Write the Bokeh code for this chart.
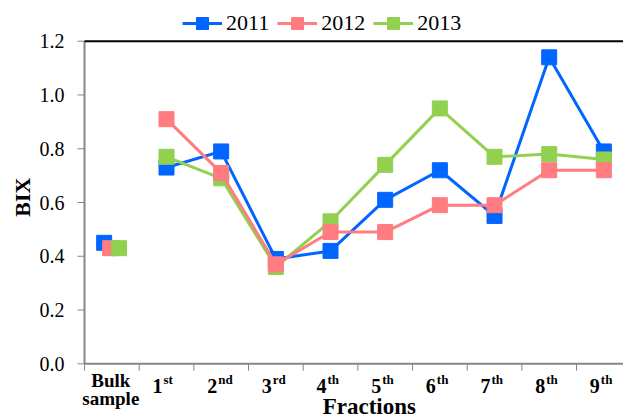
import math
from bokeh.plotting import figure
from bokeh.models import (Range1d, Legend, LegendItem, ColumnDataSource)
from bokeh.core.properties import value
from bokeh.transform import dodge
from bokeh.embed import file_html
from bokeh.resources import INLINE

# ---------------- data ----------------
categories = ["Bulk sample", "1st", "2nd", "3rd", "4th", "5th", "6th", "7th", "8th", "9th"]
tick_main = ["1", "2", "3", "4", "5", "6", "7", "8", "9"]
tick_sup = ["st", "nd", "rd", "th", "th", "th", "th", "th", "th"]
bulk_lines = ["Bulk", "sample"]

years = ["2011", "2012", "2013"]
bix_2011 = [0.45, 0.73, 0.79, 0.39, 0.42, 0.61, 0.72, 0.55, 1.14, 0.79]
bix_2012 = [0.43, 0.91, 0.71, 0.37, 0.49, 0.49, 0.59, 0.59, 0.72, 0.72]
bix_2013 = [0.43, 0.77, 0.69, 0.36, 0.53, 0.74, 0.95, 0.77, 0.78, 0.76]
y_ticks = [0.0, 0.2, 0.4, 0.6, 0.8, 1.0, 1.2]
y_tick_labels = ["0.0", "0.2", "0.4", "0.6", "0.8", "1.0", "1.2"]
y_label = "BIX"
x_label = "Fractions"

colors = {"2011": "#0066FF", "2012": "#FF7C80", "2013": "#92D050"}
bulk_offsets = {"2011": -0.14, "2012": -0.03, "2013": 0.13}

SERIF = value("Liberation Serif")
AXIS_GRAY = "#868686"

# ---------------- geometry (pixels -> data) ----------------
W, H = 623, 418
PX_X = 54.67          # pixels per category
PX_Y = 268.83         # pixels per BIX unit
LEFT_PX = 84          # canvas x of the value axis
ZERO_PX = 363.3       # canvas y of BIX = 0
x0 = -0.5 - LEFT_PX / PX_X
x1 = x0 + W / PX_X
y_top = ZERO_PX / PX_Y
y_bot = -(H - ZERO_PX) / PX_Y
def dx(px):
    return px / PX_X
def dy(px):
    return px / PX_Y

p = figure(width=W, height=H, output_backend="svg", toolbar_location=None,
           x_range=Range1d(x0, x1), y_range=Range1d(y_bot, y_top),
           min_border=0, x_axis_type=None, y_axis_type=None)
p.outline_line_color = None
p.xgrid.visible = False
p.ygrid.visible = False
p.background_fill_color = "white"
p.border_fill_color = "white"

ax_left = -0.5
ymax = y_ticks[-1]

# value axis
p.segment(x0=[ax_left], y0=[0], x1=[ax_left], y1=[ymax], line_color=AXIS_GRAY, line_width=2)
p.segment(x0=[ax_left] * len(y_ticks), y0=y_ticks,
          x1=[ax_left - dx(7)] * len(y_ticks), y1=y_ticks,
          line_color=AXIS_GRAY, line_width=1)
p.text(x=[ax_left] * len(y_ticks), y=y_ticks, text=y_tick_labels, x_offset=-20,
       text_align="right", text_baseline="middle", text_font=SERIF,
       text_font_size="20px", text_color="black")
p.text(x=[x0 + dx(22)], y=[0.62], text=[y_label], angle=math.pi / 2,
       text_align="center", text_baseline="middle", text_font=SERIF,
       text_font_style="bold", text_font_size="22px", text_color="black")

# category axis
bounds = [i - 0.5 for i in range(len(categories) + 1)]
p.segment(x0=[ax_left], y0=[0], x1=[x1], y1=[0], line_color=AXIS_GRAY, line_width=2)
p.segment(x0=bounds, y0=[0] * len(bounds), x1=bounds, y1=[-dy(7)] * len(bounds),
          line_color=AXIS_GRAY, line_width=1)
# top border
p.segment(x0=[ax_left], y0=[ymax], x1=[x1], y1=[ymax], line_color="black", line_width=2)

# series
series = {"2011": bix_2011, "2012": bix_2012, "2013": bix_2013}
idx = list(range(len(categories)))
renderers = {}
for yr in ["2011", "2013", "2012"]:
    vals = series[yr]
    src = ColumnDataSource(dict(x=idx[1:], y=vals[1:]))
    ln = p.line("x", "y", source=src, line_color=colors[yr], line_width=3)
    sq = p.scatter("x", "y", source=src, marker="square", size=15,
                   fill_color=colors[yr], line_color=colors[yr])
    renderers[yr] = (ln, sq)

for yr in ["2011", "2012", "2013"]:
    bsrc = ColumnDataSource(dict(x=[idx[0]], y=[series[yr][0]]))
    p.scatter(dodge("x", bulk_offsets[yr], range=p.x_range), "y", source=bsrc,
              marker="square", size=15, fill_color=colors[yr], line_color=colors[yr])

legend = Legend(items=[LegendItem(label=yr, renderers=list(renderers[yr])) for yr in years],
                orientation="horizontal", location=(182, H - 38),
                glyph_width=40, glyph_height=30, label_standoff=4, spacing=8,
                padding=0, margin=0, border_line_color=None, background_fill_alpha=0,
                label_text_font="Liberation Serif", label_text_font_size="22px",
                label_text_baseline="middle", label_text_color="black")
p.add_layout(legend, "center")

# category labels (vertical centres below the axis, in pixels)
lab_src = ColumnDataSource(dict(x=idx[1:], main=tick_main, sup=tick_sup))
p.text(x="x", y=-dy(22), text="main", source=lab_src, x_offset=-4,
       text_align="right", text_baseline="middle", text_font=SERIF,
       text_font_style="bold", text_font_size="20px", text_color="black")
p.text(x="x", y=-dy(16), text="sup", source=lab_src, x_offset=-3,
       text_align="left", text_baseline="middle", text_font=SERIF,
       text_font_style="bold", text_font_size="13px", text_color="black")
bsrc2 = ColumnDataSource(dict(x=[idx[0], idx[0]], y=[-dy(17), -dy(35)], t=bulk_lines))
p.text(x="x", y="y", text="t", source=bsrc2, x_offset=-1,
       text_align="center", text_baseline="middle", text_font=SERIF,
       text_font_style="bold", text_font_size="19px", text_color="black")

p.text(x=[4.71], y=[-dy(43)], text=[x_label], text_align="center",
       text_baseline="middle", text_font=SERIF, text_font_style="bold",
       text_font_size="23px", text_color="black")

open("out.html", "w").write(file_html(p, INLINE))
